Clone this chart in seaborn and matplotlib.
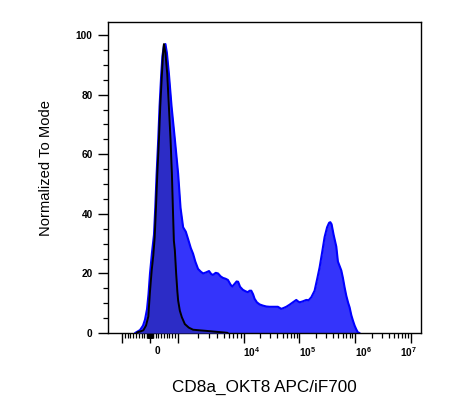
import numpy as np
import pandas as pd
import matplotlib
matplotlib.use("Agg")
import matplotlib.pyplot as plt
import seaborn as sns
from matplotlib.transforms import ScaledTranslation
from matplotlib.ticker import FixedLocator, MultipleLocator, NullFormatter

# ---------------- data ----------------
ctrl_x = [-464, -321, -239, -143, -61, 0, 61, 118, 168, 214, 261, 321, 368, 429,
          464, 500, 554, 618, 679, 739, 786, 821, 857, 893, 939, 982, 1010, 1072,
          1150, 1277, 1468, 1705, 2154, 2750, 3636, 4642, 5722]
ctrl_y = [0.2, 0.6, 0.9, 2.5, 5.5, 14, 21, 26, 32, 42, 53, 65, 76, 87,
          93, 97, 94, 87.1, 75.9, 64.7, 53.5, 42.2, 31, 27.7, 20, 14, 10.9, 7.5,
          5.3, 3, 1.8, 1.1, 0.9, 0.7, 0.45, 0.25, 0.05]

cd8_x = [-536, -464, -357, -250, -179, -107, -54, 0, 71, 143, 189, 236, 296, 343,
         404, 446, 500, 554, 607, 679, 775, 893, 1010, 1099, 1203, 1322, 1433,
         1574, 1705, 1842, 2031, 2231, 2417, 2656, 2980, 3218, 3426, 3766, 4080,
         4482, 4858, 5338, 5782, 6353, 6743, 7304, 7832, 8254, 8850, 9759,
         10862, 11946, 12815, 13745, 14810, 15754, 17330, 19380, 22210, 25560,
         29300, 34560, 41280, 47520, 52250, 58430, 66960, 76780, 88350, 95160,
         101250, 114600, 133600, 146900, 164200, 188200, 208700, 231500, 256600,
         284600, 315600, 342800, 360300, 380100, 412800, 461600, 493200, 529000,
         567500, 606400, 650600, 698100, 751800, 800100, 858300, 917000, 983600,
         1055000, 1127000, 1209000]
cd8_y = [0, 0.4, 1.0, 2.5, 4.5, 8, 13, 20, 27, 33, 42, 53, 65, 76,
         87, 93, 96.5, 97, 94, 87, 76, 65, 53.5, 42, 35.5, 34, 31.5,
         28.5, 26.6, 24, 21.5, 20.6, 20, 20.3, 20.8, 19.8, 19.5, 20.2, 20,
         19, 18.5, 18.2, 17.8, 16.2, 15.6, 16.5, 17.3, 17.2, 15.5, 14.5,
         14, 13.7, 14.2, 14.2, 13, 11.5, 10.3, 9.6, 9.2, 8.9,
         8.8, 8.8, 8.8, 8.1, 8.4, 8.8, 9.5, 10.3, 11.1, 10.6,
         10.3, 10.6, 11.1, 11.0, 12, 14.2, 18, 22, 27,
         32.2, 35.5, 37, 37.2, 36.5, 33, 29, 24, 22.5,
         21, 18.5, 15.3, 12.5, 10.2, 8.6, 6, 4.2, 2.5,
         1.2, 0.2, 0]

x_major = [-1e3, 0, 1e3, 1e4, 1e5, 1e6, 1e7]
x_major_labels = ["", "0", "", "$10^4$", "$10^5$", "$10^6$", "$10^7$"]
y_major = [0, 20, 40, 60, 80, 100]
y_major_labels = ["0", "20", "40", "60", "80", "100"]
x_label = "CD8a_OKT8 APC/iF700"
y_label = "Normalized To Mode"

# ---------------- biexponential-like axis scale ----------------
LIN_UNITS = 0.5   # display units at |x| = 1e3 (linear inside)
D3 = 1.18         # display units for the 1e3 -> 1e4 decade


def biex_fwd(x):
    x = np.asarray(x, dtype=float)
    a = np.abs(x)
    lg = np.log10(np.where(a > 0, a, 1.0))
    upper = np.where(a >= 1e4, LIN_UNITS + D3 + (lg - 4), LIN_UNITS + D3 * (lg - 3))
    return np.where(a <= 1e3, x / 2e3, np.sign(x) * upper)


def biex_inv(t):
    t = np.asarray(t, dtype=float)
    a = np.clip(np.abs(t), 0, 20)
    upper = np.where(a >= LIN_UNITS + D3, 10.0 ** (4 + a - LIN_UNITS - D3),
                     10.0 ** (3 + (a - LIN_UNITS) / D3))
    return np.where(a <= LIN_UNITS, t * 2e3, np.sign(t) * upper)


# ---------------- figure ----------------
sns.set_style("ticks")
plt.rcParams["font.family"] = ["Liberation Sans", "DejaVu Sans"]
plt.rcParams["mathtext.fontset"] = "custom"
plt.rcParams["mathtext.rm"] = "Liberation Sans:bold"
plt.rcParams["mathtext.it"] = "Liberation Sans:bold"
plt.rcParams["mathtext.bf"] = "Liberation Sans:bold"
plt.rcParams["mathtext.default"] = "rm"
plt.rcParams["text.color"] = "black"
plt.rcParams["axes.labelcolor"] = "black"

W, H = 461, 418
fig = plt.figure(figsize=(W / 100, H / 100), dpi=100)
ax = fig.add_axes([108 / W, 1 - 333 / H, 313 / W, 311 / H])

df_cd8 = pd.DataFrame({"x": cd8_x, "y": cd8_y})
df_ctrl = pd.DataFrame({"x": ctrl_x, "y": ctrl_y})

ax.fill_between(df_cd8["x"], df_cd8["y"], 0, color="#3434fb", lw=0, zorder=1)
sns.lineplot(data=df_cd8, x="x", y="y", sort=False, estimator=None,
             color="#0000ff", lw=1.5, ax=ax, zorder=2)
ax.fill_between(df_ctrl["x"], df_ctrl["y"], 0, color="#2c2cc6", lw=0, zorder=3)
sns.lineplot(data=df_ctrl, x="x", y="y", sort=False, estimator=None,
             color="black", lw=1.4, ax=ax, zorder=4)

ax.set_xscale("function", functions=(biex_fwd, biex_inv))
ax.set_xlim(-1641, 1.53e7)
ax.set_ylim(0, 104.4)

# ticks
ax.xaxis.set_major_locator(FixedLocator(x_major))
ax.set_xticklabels(x_major_labels)
x_minor = (list(np.arange(-90, 91, 10)) + list(np.arange(-900, 901, 100)) +
           [m * 10.0 ** k for k in range(3, 7) for m in range(2, 10)])
ax.xaxis.set_minor_locator(FixedLocator(x_minor))
ax.xaxis.set_minor_formatter(NullFormatter())

ax.yaxis.set_major_locator(FixedLocator(y_major))
ax.set_yticklabels(y_major_labels)
ax.yaxis.set_minor_locator(MultipleLocator(5))

ax.tick_params(axis="both", which="major", length=7, width=1, color="black",
               direction="out", labelsize=7.3, labelcolor="black")
ax.tick_params(axis="both", which="minor", length=3.5, width=0.9, color="black",
               direction="out")
ax.tick_params(axis="x", which="major", pad=2)
ax.tick_params(axis="y", which="major", pad=4)
for lab in ax.get_yticklabels() + ax.get_xticklabels():
    lab.set_fontweight("bold")

for sp in ax.spines.values():
    sp.set_visible(True)
    sp.set_color("black")
    sp.set_linewidth(1)

# shift x tick labels slightly, as in the reference
shifts = [0, 5.5, 0, 6, 6, 6, -1.5]
for lab, dx in zip(ax.get_xticklabels(), shifts):
    lab.set_transform(lab.get_transform() + ScaledTranslation(dx / 72, 0, fig.dpi_scale_trans))

ax.set_xlabel(x_label, fontsize=12.3, color="black")
ax.set_ylabel(y_label, fontsize=10.6, color="black")
ax.xaxis.set_label_coords(0.5, -0.152)
ax.yaxis.set_label_coords(-0.175, 0.53)

fig.savefig("out.png", dpi=100)
